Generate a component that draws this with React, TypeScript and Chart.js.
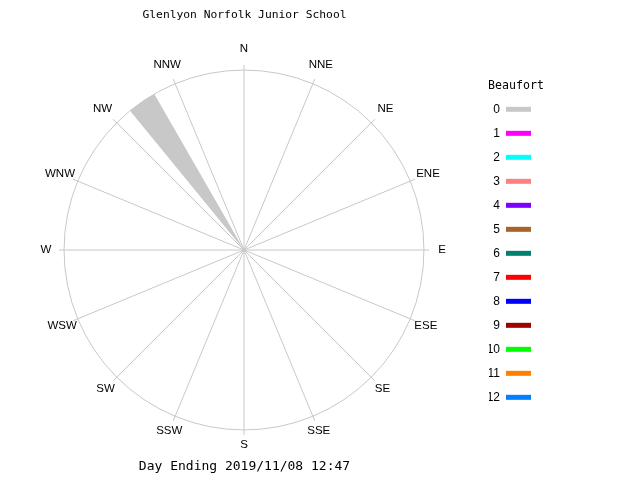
import { useEffect, useRef } from "react";
import Chart from "chart.js/auto";

const directions = ["N", "NNE", "NE", "ENE", "E", "ESE", "SE", "SSE", "S", "SSW", "SW", "WSW", "W", "WNW", "NW", "NNW"];
// % of the day at Beaufort 0 (calm), per direction
const calmPercent = [0, 0, 0, 0, 0, 0, 0, 0, 0, 0, 0, 0, 0, 0, 100, 0];

const beaufortLevels = ["0", "1", "2", "3", "4", "5", "6", "7", "8", "9", "10", "11", "12"];
const beaufortColors = [
  "#c8c8c8", "#ff00ff", "#00ffff", "#ff8080", "#8000ff", "#a86428", "#008070",
  "#ff0000", "#0000ff", "#a00000", "#00ff00", "#ff8000", "#0080ff",
];

const chartTitle = "Glenlyon Norfolk Junior School";
const chartSubtitle = "Day Ending 2019/11/08 12:47";

// every 22.5deg sector is drawn as gap / wedge / gap (degrees)
const sectorParts = [5.7, 9.4, 7.4];

const mono = "'DejaVu Sans Mono', monospace";
const sans = "'Liberation Sans', sans-serif";
const grey = "#c8c8c8";
const labelSize = 11.5;

// compass names centred on a ring just outside the spokes
const compassLabels = {
  id: "compassLabels",
  afterDraw(chart: any) {
    const scale = chart.scales.r;
    const c = chart.ctx;
    c.save();
    c.font = `${labelSize}px ${sans}`;
    c.fillStyle = "#000";
    c.textAlign = "center";
    c.textBaseline = "middle";
    scale.getLabels().forEach((label: string, i: number) => {
      const th = scale.getIndexAngle(i);
      const p = scale.getPointPosition(i, scale.drawingArea + 13 + 3 * Math.cos(th));
      c.fillText(label, p.x, p.y);
    });
    c.restore();
  },
};

export default function App() {
  const canvasRef = useRef<HTMLCanvasElement>(null);

  useEffect(() => {
    if (!canvasRef.current) return;
    const ctx = canvasRef.current.getContext("2d");
    if (!ctx) return;

    const arcs = directions.flatMap((_, i) => [0, calmPercent[i], 0]);

    const chart = new Chart(ctx, {
      type: "polarArea",
      data: {
        labels: directions,
        datasets: [
          {
            label: "Beaufort 0",
            data: arcs,
            backgroundColor: beaufortColors[0],
            borderWidth: 0,
            angle: (c: any) => sectorParts[c.dataIndex % 3],
          } as any,
        ],
      },
      plugins: [compassLabels],
      options: {
        animation: false,
        responsive: true,
        maintainAspectRatio: false,
        layout: { padding: { right: 97 } },
        scales: {
          r: {
            min: 0,
            max: 102.8,
            startAngle: 0,
            ticks: { display: false },
            // only the 100% ring is drawn; the spokes run a little past it
            afterBuildTicks: (scale: any) => {
              scale.ticks = [{ value: 0 }, { value: 100 }];
            },
            grid: { circular: true, color: grey },
            angleLines: { display: true, color: grey },
            pointLabels: { display: false },
          },
        },
        plugins: {
          tooltip: { enabled: false },
          title: {
            display: true,
            text: chartTitle,
            fullSize: false,
            color: "#000",
            font: { family: mono, size: 11.3, weight: "normal" },
            padding: { top: 8, bottom: 44 },
          },
          subtitle: {
            display: true,
            text: chartSubtitle,
            position: "bottom",
            fullSize: false,
            color: "#000",
            font: { family: mono, size: 13 },
            padding: { top: 22.8, bottom: 6 },
          },
          legend: {
            position: "right",
            align: "start",
            rtl: true,
            maxWidth: 54,
            onClick: () => {},
            title: {
              display: true,
              text: "Beaufort",
              color: "#000",
              font: { family: mono, size: 11.6 },
              padding: { top: 80, bottom: -2.6 },
            },
            labels: {
              boxWidth: 25,
              boxHeight: 5,
              padding: 12,
              color: "#000",
              font: { family: sans, size: 12 },
              generateLabels: () =>
                beaufortLevels.map((text, i) => ({
                  text,
                  fillStyle: beaufortColors[i],
                  strokeStyle: beaufortColors[i],
                  lineWidth: 0,
                  hidden: false,
                  index: i,
                  fontColor: "#000",
                })),
            },
          },
        },
      } as any,
    });
    return () => chart.destroy();
  }, []);

  return (
    <div style={{ position: "fixed", left: 0, top: 0, width: 640, height: 480, background: "#fff" }}>
      <canvas ref={canvasRef} />
    </div>
  );
}
